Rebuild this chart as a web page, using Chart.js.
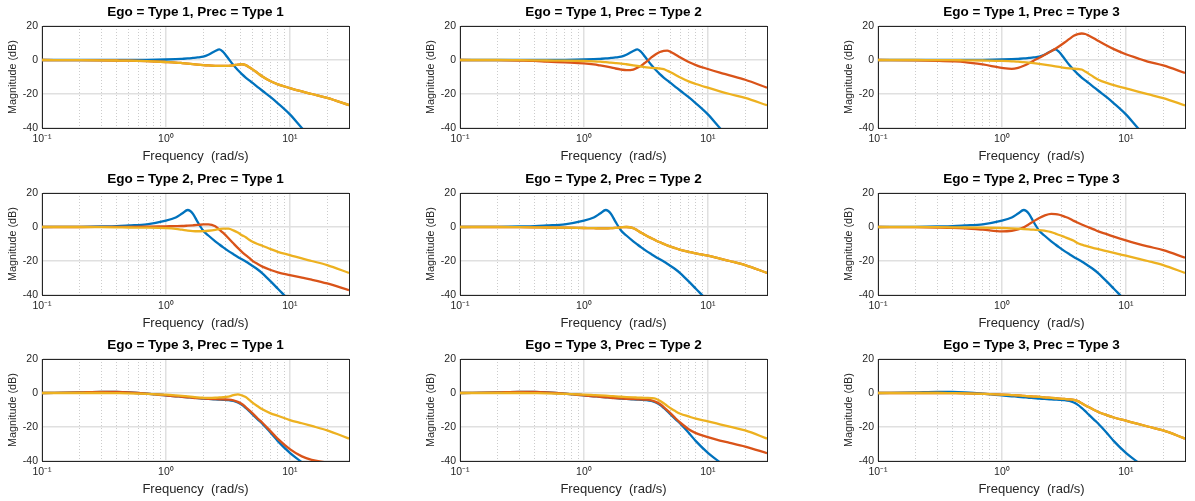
<!DOCTYPE html>
<html><head><meta charset="utf-8">
<script src="https://cdn.jsdelivr.net/npm/chart.js@4.4.1/dist/chart.umd.min.js"></script>
<style>
html,body{margin:0;padding:0;background:#fff;width:1195px;height:501px;overflow:hidden;position:relative}
.cell{position:absolute}
canvas{display:block}
</style></head><body>
<script>
// ---------- data ----------
const FREQ = [0.1, 0.2, 0.3, 0.4, 0.5, 0.7, 1.0, 1.2, 1.35, 1.5, 1.65, 1.8, 2.0, 2.2, 2.5, 2.7, 2.9, 3.2, 3.5, 3.8, 4.1, 4.4, 4.7, 5.0, 5.5, 6.0, 7.0, 8.0, 10, 12.5, 15, 20, 30];

// blue: Ego alone (one per row)
const EGO1_BLUE = [0, 0, 0, 0, 0.05, 0.1, 0.3, 0.5, 0.7, 0.9, 1.2, 1.5, 2.0, 3.1, 5.3, 6.3, 4.7, 0.7, -3.0, -5.9, -8.3, -10.3, -12.0, -13.5, -15.9, -18.1, -21.9, -25.5, -32.0, -40.0, -46, -55, -66];
const EGO2_BLUE = [0, 0.1, 0.3, 0.5, 0.9, 1.6, 3.7, 5.6, 7.9, 10.0, 7.8, 3.0, -2.2, -5.0, -8.4, -10.3, -12.0, -14.2, -16.0, -17.6, -19.0, -20.3, -21.6, -22.9, -25.0, -27.3, -32.0, -36.3, -43.5, -50, -56, -64, -75];
const EGO3_BLUE = [0, 0.4, 0.7, 0.6, 0.3, -0.4, -1.4, -1.9, -2.2, -2.5, -2.8, -3.0, -3.3, -3.5, -3.8, -3.9, -4.0, -4.2, -4.7, -5.6, -7.0, -8.8, -10.7, -12.6, -15.5, -18.1, -23.4, -28.3, -35.2, -40.8, -46, -54, -64];

// orange per panel (row = Ego type, column = Prec type)
const ORANGE_1_1 = [0, -0.1, -0.2, -0.3, -0.4, -0.7, -1.2, -1.5, -1.8, -2.1, -2.4, -2.7, -3.0, -3.2, -3.4, -3.5, -3.5, -3.4, -3.1, -2.7, -2.5, -3.0, -4.3, -5.5, -7.7, -9.7, -12.5, -14.3, -16.5, -18.5, -20.0, -22.3, -26.5];
const ORANGE_1_2 = [0, -0.1, -0.3, -0.5, -0.9, -1.4, -2.0, -2.6, -3.2, -3.8, -4.4, -5.0, -5.6, -6.0, -5.6, -4.6, -3.3, -1.0, 1.5, 3.4, 4.7, 5.4, 5.5, 4.8, 3.1, 1.4, -1.2, -3.0, -5.3, -7.4, -9.0, -11.6, -16.3];
const ORANGE_1_3 = [0, -0.2, -0.5, -0.8, -1.2, -2.6, -4.6, -5.2, -4.6, -3.4, -1.9, -0.4, 1.3, 3.0, 5.2, 6.6, 8.1, 10.3, 12.4, 14.2, 15.2, 15.6, 15.3, 14.4, 12.8, 11.2, 8.5, 6.4, 3.4, 1.0, -0.9, -3.2, -7.6];
const ORANGE_2_1 = [0, 0, 0.05, 0.1, 0.1, 0.2, 0.4, 0.5, 0.6, 0.8, 1.0, 1.2, 1.5, 1.6, 0.5, -1.5, -3.5, -6.6, -9.6, -12.3, -14.6, -16.5, -18.2, -19.9, -21.8, -23.3, -25.3, -26.7, -28.3, -29.8, -31.0, -33.2, -37.2];
const ORANGE_2_2 = [0, 0, -0.1, -0.2, -0.3, -0.4, -0.6, -0.7, -0.8, -0.8, -0.7, -0.5, -0.2, 0.0, -0.7, -2.0, -3.4, -5.2, -6.6, -7.9, -9.0, -9.9, -10.8, -11.5, -12.5, -13.4, -14.6, -15.5, -16.9, -18.6, -20.0, -22.4, -27.0];
const ORANGE_2_3 = [0, -0.1, -0.3, -0.5, -0.8, -1.6, -2.6, -2.2, -1.4, -0.2, 1.6, 3.3, 5.3, 6.7, 7.7, 7.6, 7.2, 6.1, 5.0, 3.6, 2.5, 1.5, 0.6, -0.2, -1.4, -2.6, -4.2, -5.7, -7.9, -9.9, -11.4, -13.6, -18.1];
const ORANGE_3_1 = [0, 0.4, 0.7, 0.6, 0.3, -0.4, -1.4, -1.9, -2.2, -2.5, -2.8, -3.0, -3.2, -3.4, -3.6, -3.7, -3.8, -3.9, -4.3, -5.2, -6.5, -8.3, -10.2, -12.0, -15.0, -17.5, -22.6, -27.0, -33.0, -37.3, -39.3, -41.0, -44.0];
const ORANGE_3_2 = [0, 0.4, 0.7, 0.6, 0.3, -0.4, -1.4, -1.9, -2.2, -2.5, -2.8, -3.0, -3.2, -3.4, -3.6, -3.7, -3.8, -3.9, -4.3, -5.2, -6.5, -8.3, -10.2, -12.0, -15.0, -17.5, -21.3, -23.6, -26.0, -28.0, -29.3, -31.5, -35.4];
const ORANGE_3_3 = [0, 0, 0, -0.1, -0.2, -0.5, -0.9, -1.2, -1.4, -1.7, -1.9, -2.1, -2.3, -2.6, -2.9, -3.1, -3.3, -3.5, -3.7, -4.0, -4.8, -6.0, -7.2, -8.3, -9.9, -11.2, -13.0, -14.4, -16.3, -18.2, -19.7, -22.0, -26.8];

// yellow per panel
const YELLOW_1_1 = [0, -0.1, -0.2, -0.3, -0.4, -0.7, -1.2, -1.5, -1.8, -2.1, -2.4, -2.7, -3.0, -3.2, -3.4, -3.5, -3.5, -3.4, -3.1, -2.7, -2.5, -3.0, -4.3, -5.5, -7.7, -9.7, -12.5, -14.3, -16.5, -18.5, -20.0, -22.3, -26.5];
const YELLOW_1_2 = [0, 0, -0.1, -0.2, -0.3, -0.4, -0.6, -0.8, -1.0, -1.3, -1.6, -1.8, -2.1, -2.5, -3.1, -3.5, -3.9, -4.3, -4.6, -4.8, -5.0, -5.4, -6.3, -7.2, -8.8, -10.3, -12.6, -14.1, -16.3, -18.4, -20.0, -22.3, -26.6];
const YELLOW_1_3 = [0, 0, -0.1, -0.1, -0.2, -0.3, -0.5, -0.8, -1.0, -1.3, -1.6, -1.9, -2.3, -2.7, -3.3, -3.7, -4.1, -4.6, -4.9, -5.1, -5.3, -5.6, -6.8, -8.0, -10.0, -11.6, -13.5, -14.8, -16.7, -18.6, -20.1, -22.4, -26.7];
const YELLOW_2_1 = [0, 0, -0.1, -0.2, -0.3, -0.4, -0.7, -1.1, -1.6, -2.1, -2.4, -2.5, -2.4, -2.2, -1.7, -1.2, -0.9, -1.0, -2.0, -3.3, -4.8, -6.0, -7.5, -8.7, -10.0, -11.0, -13.0, -14.6, -16.5, -18.5, -20.0, -22.4, -27.0];
const YELLOW_2_2 = [0, 0, -0.1, -0.2, -0.3, -0.4, -0.6, -0.7, -0.8, -0.8, -0.7, -0.5, -0.2, 0.0, -0.7, -2.0, -3.4, -5.2, -6.6, -7.9, -9.0, -9.9, -10.8, -11.5, -12.5, -13.4, -14.6, -15.5, -16.9, -18.6, -20.0, -22.4, -27.0];
const YELLOW_2_3 = [0, 0, -0.1, -0.2, -0.3, -0.4, -0.6, -0.8, -1.0, -1.2, -1.4, -1.6, -1.8, -2.2, -3.0, -3.9, -4.7, -5.9, -7.0, -8.1, -9.6, -10.4, -11.0, -11.6, -12.4, -13.0, -14.2, -15.2, -16.9, -18.6, -20.0, -22.4, -27.0];
const YELLOW_3_1 = [0, 0, 0, -0.1, -0.2, -0.5, -1.0, -1.4, -1.7, -2.0, -2.3, -2.6, -2.8, -2.9, -2.8, -2.6, -2.5, -2.1, -1.3, -0.8, -1.4, -2.4, -4.0, -5.7, -7.8, -9.6, -12.0, -13.4, -15.9, -17.8, -19.4, -22.0, -26.8];
const YELLOW_3_2 = [0, 0, 0, -0.1, -0.2, -0.5, -0.9, -1.2, -1.4, -1.6, -1.8, -2.0, -2.2, -2.4, -2.6, -2.7, -2.8, -2.9, -3.0, -3.4, -4.6, -6.0, -7.6, -9.0, -10.8, -12.2, -13.8, -15.1, -16.7, -18.4, -19.8, -22.0, -26.8];
const YELLOW_3_3 = [0, 0, 0, -0.1, -0.2, -0.5, -0.9, -1.2, -1.4, -1.7, -1.9, -2.1, -2.3, -2.6, -2.9, -3.1, -3.3, -3.5, -3.7, -4.0, -4.8, -6.0, -7.2, -8.3, -9.9, -11.2, -13.0, -14.4, -16.3, -18.2, -19.7, -22.0, -26.8];

// ticks / labels
const X_MAJOR = [0.1, 1, 10];
const X_MAJOR_LABELS = ['10\u207B\u00B9', '10\u2070', '10\u00B9'];
const X_MINOR = [0.2, 0.3, 0.4, 0.5, 0.6, 0.7, 0.8, 0.9, 2, 3, 4, 5, 6, 7, 8, 9, 20];
const Y_TICKS = [-40, -20, 0, 20];
const TYPE_LABELS = ['Type 1', 'Type 2', 'Type 3'];

const BLUE_BY_EGO = [EGO1_BLUE, EGO2_BLUE, EGO3_BLUE];
const ORANGE_GRID = [[ORANGE_1_1, ORANGE_1_2, ORANGE_1_3], [ORANGE_2_1, ORANGE_2_2, ORANGE_2_3], [ORANGE_3_1, ORANGE_3_2, ORANGE_3_3]];
const YELLOW_GRID = [[YELLOW_1_1, YELLOW_1_2, YELLOW_1_3], [YELLOW_2_1, YELLOW_2_2, YELLOW_2_3], [YELLOW_3_1, YELLOW_3_2, YELLOW_3_3]];

// ---------- styling / layout ----------
const C_BLUE = '#0072BD', C_ORANGE = '#D95319', C_YELLOW = '#EDB120';
const AX = '#262626';
const CELL_LEFT = [0, 418, 836], CELL_TOP = [0, 167, 333];
const CELL_W = 359, CELL_H = 166;

Chart.defaults.font.family = "'Liberation Sans', Arial, Helvetica, sans-serif";
Chart.defaults.color = AX;

function pts(arr) { return FREQ.map((f, i) => ({x: f, y: arr[i]})); }

function makeChart(r, c) {
  const div = document.createElement('div');
  div.className = 'cell';
  div.style.left = CELL_LEFT[c] + 'px';
  div.style.top = CELL_TOP[r] + 'px';
  const cv = document.createElement('canvas');
  cv.width = CELL_W; cv.height = CELL_H;
  cv.style.width = CELL_W + 'px'; cv.style.height = CELL_H + 'px';
  div.appendChild(cv);
  document.body.appendChild(div);

  const xLog = {type: 'logarithmic', min: 0.1, max: 30};
  new Chart(cv, {
    type: 'line',
    data: {datasets: [
      {data: pts(BLUE_BY_EGO[r]), borderColor: C_BLUE, order: 3, xAxisID: 'x', yAxisID: 'y'},
      {data: pts(ORANGE_GRID[r][c]), borderColor: C_ORANGE, order: 2, xAxisID: 'x', yAxisID: 'y'},
      {data: pts(YELLOW_GRID[r][c]), borderColor: C_YELLOW, order: 1, xAxisID: 'x', yAxisID: 'y'}
    ]},
    options: {
      responsive: false, animation: false, devicePixelRatio: 1,
      layout: {padding: {left: 0, right: 10, top: 0, bottom: 0}},
      datasets: {line: {clip: 0}},
      elements: {point: {radius: 0}, line: {borderWidth: 2.3, cubicInterpolationMode: 'monotone', fill: false}},
      plugins: {
        legend: {display: false}, tooltip: {enabled: false},
        title: {display: true, fullSize: false, text: 'Ego = ' + TYPE_LABELS[r] + ', Prec = ' + TYPE_LABELS[c],
                color: '#000', font: {size: 13.5, weight: 'bold'}, padding: {top: 4, bottom: 5.8}}
      },
      scales: {
        x: Object.assign({}, xLog, {
          position: 'bottom',
          afterBuildTicks: s => { s.ticks = X_MAJOR.map(v => ({value: v})); },
          afterFit: s => { s.height = 38; },
          ticks: {autoSkip: false, maxRotation: 0, padding: 5, color: AX, font: {size: 10.5},
                  callback: (v, i) => X_MAJOR_LABELS[i]},
          grid: {color: '#e0e0e0', lineWidth: 1.5, drawTicks: false},
          border: {display: true, color: AX, width: 1},
          title: {display: true, text: 'Frequency  (rad/s)', color: AX, font: {size: 13}, padding: {top: 0, bottom: 2}}
        }),
        xMinor: Object.assign({}, xLog, {
          position: 'bottom',
          afterBuildTicks: s => { s.ticks = X_MINOR.map(v => ({value: v})); },
          afterFit: s => { s.height = 0; },
          ticks: {display: false},
          grid: {color: '#cccccc', lineWidth: 1, drawTicks: false},
          border: {display: false, dash: [1, 2]}
        }),
        xTop: Object.assign({}, xLog, {
          position: 'top',
          afterFit: s => { s.height = 0; },
          ticks: {display: false},
          grid: {display: false, drawTicks: false},
          border: {display: true, color: AX, width: 1}
        }),
        y: {
          type: 'linear', position: 'left', min: -40, max: 20,
          afterBuildTicks: s => { s.ticks = Y_TICKS.map(v => ({value: v})); },
          afterFit: s => { s.width = 42; },
          ticks: {padding: 4, color: AX, font: {size: 10.5}},
          grid: {color: '#e0e0e0', lineWidth: 1.5, drawTicks: false},
          border: {display: true, color: AX, width: 1},
          title: {display: true, text: 'Magnitude (dB)', color: AX, font: {size: 10.8}, padding: {top: 7, bottom: 0}}
        },
        yRight: {
          type: 'linear', position: 'right', min: -40, max: 20,
          afterFit: s => { s.width = 0; },
          ticks: {display: false},
          grid: {display: false, drawTicks: false},
          border: {display: true, color: AX, width: 1}
        }
      }
    }
  });
}

for (let r = 0; r < 3; r++) for (let c = 0; c < 3; c++) makeChart(r, c);
</script>
</body></html>
